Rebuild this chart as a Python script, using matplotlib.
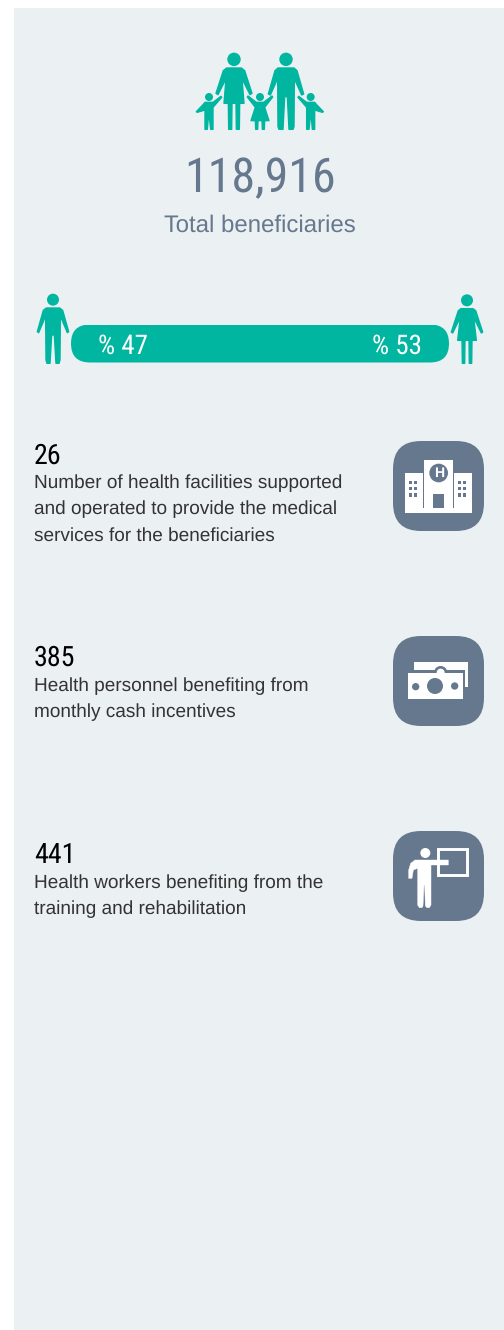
import matplotlib
matplotlib.use("Agg")
import matplotlib.pyplot as plt
from matplotlib.patches import Circle, Polygon, Rectangle, FancyBboxPatch

plt.rcParams["text.hinting"] = "no_hinting"
plt.rcParams["text.hinting_factor"] = 1

TOTAL_LABEL = "118,916"
TOTAL_CAPTION = "Total beneficiaries"
SHARE_LABELS = ["% 47", "% 53"]
SHARE_VALUES = [47, 53]
STAT_VALUES = ["26", "385", "441"]
STAT_TEXTS = [
    ["Number of health facilities supported", "and operated to provide the medical", "services for the beneficiaries"],
    ["Health personnel benefiting from", "monthly cash incentives"],
    ["Health workers benefiting from the", "training and rehabilitation"],
]

TEAL = "#00B6A0"
SLATE = "#66788D"
PANEL = "#EBF0F3"
NUM_FONT = ["Roboto Condensed", "DejaVu Sans"]
BODY_FONT = ["Liberation Sans", "DejaVu Sans"]

fig = plt.figure(figsize=(5.04, 13.30), dpi=100, facecolor="white")
ax = fig.add_axes([0, 0, 1, 1])
ax.set_xlim(0, 504)
ax.set_ylim(1330, 0)
ax.axis("off")

ax.add_patch(Rectangle((14, 8), 490, 1322, fc=PANEL, ec="none"))


def z(ox, oy, pts):
    return [(ox + x / 3, oy + y / 3) for x, y in pts]


def poly(pts, color=TEAL, lw=1.0):
    ax.add_patch(Polygon(pts, closed=True, fc=color, ec=color, lw=lw, joinstyle="round"))


def sym(cx, half):
    right = [(cx + x, y) for x, y in half]
    left = [(cx - x, y) for x, y in reversed(half)]
    return right + left


def circ(x, y, r, color=TEAL):
    ax.add_patch(Circle((x, y), r, fc=color, ec="none"))


# ---- family icon (zoomed reference coordinates)
OX, OY = 150, 30
mother = [(0, 114), (22, 114), (32, 122), (54, 190), (48, 194), (24, 146), (30, 220), (17, 220), (16, 298),
          (7, 298), (6, 220), (0, 220)]
father = [(0, 114), (24, 114), (33, 122), (53, 192), (47, 195), (25, 146), (24, 290), (21, 298), (9, 298),
          (4, 200), (0, 200)]
girl = [(0, 217), (11, 217), (36, 198), (38, 201), (14, 232), (27, 272), (14, 272), (13, 298), (7, 298),
        (6, 272), (0, 272)]
poly(z(OX, OY, sym(252, mother)))
circ(OX + 252 / 3, OY + 88 / 3, 6.7)
poly(z(OX, OY, sym(408, father)))
circ(OX + 408 / 3, OY + 88 / 3, 6.7)
poly(z(OX, OY, sym(330, girl)))
circ(OX + 330 / 3, OY + 201 / 3, 4)
boy = [(-12, 217), (12, 217), (36, 199), (38, 202), (12, 232), (12, 298), (5, 298), (1, 262), (-2, 262), (-5, 298),
       (-12, 298), (-12, 240), (-35, 247), (-38, 245), (-17, 223)]
poly(z(OX, OY, [(177 + x, y) for x, y in boy]))
circ(OX + 177 / 3, OY + 201 / 3, 4)
poly(z(OX, OY, [(482 - x, y) for x, y in boy]))
circ(OX + 482 / 3, OY + 201 / 3, 4)

ax.text(260.5, 192.3, TOTAL_LABEL, family=NUM_FONT, fontsize=34.4, color=SLATE, ha="center", va="baseline")
ax.text(259.5, 231.5, TOTAL_CAPTION, family=BODY_FONT, fontsize=17.5, color=SLATE, ha="center", va="baseline")

# ---- share bar, drawn from the two shares and clipped to its pill
BAR_X0, BAR_W, BAR_Y, BAR_H = 71, 378, 343.5, 38
clip = FancyBboxPatch((BAR_X0 + 19, BAR_Y - BAR_H / 2 + 19), BAR_W - 38, 0,
                      boxstyle="round,pad=19,rounding_size=19", fc="none", ec="none")
ax.add_patch(clip)
left = BAR_X0
for v in SHARE_VALUES:
    w = BAR_W * v / sum(SHARE_VALUES)
    b = ax.barh(BAR_Y, w, height=BAR_H, left=left, color=TEAL, lw=0)
    b[0].set_clip_path(clip)
    left += w
ax.set_xlim(0, 504)
ax.set_ylim(1330, 0)

ax.text(97.7, 354, SHARE_LABELS[0], family=NUM_FONT, fontsize=19.3, color="white", ha="left", va="baseline")
ax.text(372.3, 354, SHARE_LABELS[1], family=NUM_FONT, fontsize=19.3, color="white", ha="left", va="baseline")

man = [(0, 84), (20, 84), (29, 91), (47, 155), (43, 158), (22, 108), (21, 240), (18, 250), (9, 250), (4, 165), (0, 165)]
poly(z(20, 280, sym(99, man)))
circ(20 + 99 / 3, 280 + 59 / 3, 6)
woman = [(0, 86), (18, 86), (26, 92), (47, 156), (43, 159), (20, 112), (28, 181), (15, 181), (14, 250), (7, 250),
         (6, 181), (0, 181)]
poly(z(20, 280, sym(1341, woman)))
circ(20 + 1341 / 3, 280 + 61 / 3, 6)

# ---- statistics
STAT_NUM_Y = [464, 666, 863]
STAT_LINE_Y = [[488, 514, 541], [691, 717], [888, 914]]
for val, ny, lines, ys in zip(STAT_VALUES, STAT_NUM_Y, STAT_TEXTS, STAT_LINE_Y):
    ax.text(34, ny, val, family=NUM_FONT, fontsize=20.5, color="black", ha="left", va="baseline")
    for line, y in zip(lines, ys):
        ax.text(34, y, line, family=BODY_FONT, fontsize=13.45, color="#333333", ha="left", va="baseline")


def tile(y0):
    ax.add_patch(FancyBboxPatch((393 + 28, y0 + 28), 91 - 56, 90 - 56, boxstyle="round,pad=28,rounding_size=28",
                                fc=SLATE, ec="none"))


def rect(ox, oy, x0, y0, x1, y1, color="white"):
    ax.add_patch(Rectangle((ox + x0 / 3, oy + y0 / 3), (x1 - x0) / 3, (y1 - y0) / 3, fc=color, ec="none"))


# hospital
tile(441)
O = (380, 430)
rect(*O, 133, 90, 220, 240)
rect(*O, 75, 130, 130, 250)
rect(*O, 223, 130, 275, 250)
rect(*O, 75, 235, 275, 250)
circ(O[0] + 176 / 3, O[1] + 129 / 3, 28 / 3, SLATE)
ax.text(O[0] + 176 / 3, O[1] + 129 / 3 + 0.3, "H", family=BODY_FONT, fontsize=10, fontweight="bold", color="white",
        ha="center", va="center")
rect(*O, 158, 192, 191, 233, SLATE)
for row in (152, 171, 190):
    for col in (87, 102, 234, 249):
        rect(*O, col, row, col + 10, row + 10, SLATE)

# cash
tile(636)
O = (400, 650)
rect(*O, 43, 35, 205, 112)
rect(*O, 17, 60, 196, 155, SLATE)
circ(O[0] + 122 / 3, O[1] + 68 / 3, 20 / 3, SLATE)
circ(O[0] + 122 / 3, O[1] + 68 / 3, 12 / 3, "white")
rect(*O, 25, 68, 188, 148)
circ(O[0] + 105 / 3, O[1] + 108 / 3, 24 / 3, SLATE)
circ(O[0] + 47 / 3, O[1] + 110 / 3, 11 / 3, SLATE)
circ(O[0] + 164 / 3, O[1] + 108 / 3, 11 / 3, SLATE)

# trainer
tile(831)
O = (380, 820)
circ(O[0] + 136 / 3, O[1] + 99 / 3, 15 / 3, "white")
poly(z(*O, [(105, 120), (205, 120), (205, 135), (153, 135), (153, 255), (148, 263), (141, 263), (136, 258),
            (134, 195), (132, 195), (129, 258), (126, 263), (118, 263), (113, 255), (113, 145), (100, 150),
            (96, 175), (86, 175), (86, 150), (92, 130)]), color="white", lw=0.3)
ax.add_patch(Rectangle((O[0] + 172.5 / 3, O[1] + 87.5 / 3), 88 / 3, 76 / 3, fc="none", ec="white", lw=2.1))

fig.savefig("out.png", dpi=100, facecolor="white")
